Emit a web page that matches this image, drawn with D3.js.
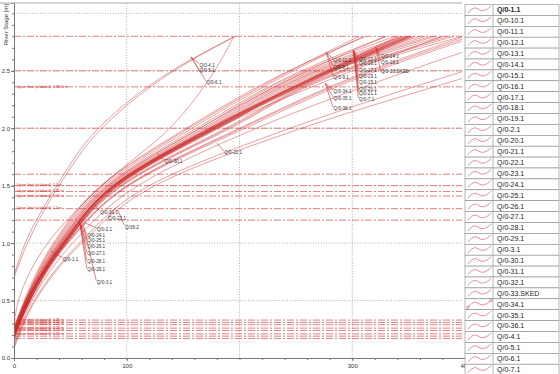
<!DOCTYPE html>
<html>
<head>
<meta charset="utf-8">
<script src="https://cdn.jsdelivr.net/npm/d3@7"></script>
<style>
  body { margin: 0; background: #fff; }
  svg { display: block; font-family: "Liberation Sans", Arial, sans-serif; }
</style>
</head>
<body>
<svg id="chart" width="560" height="374"></svg>
<script>
// stages (m) at which discharge is read for every curve
const stageGrid = [0.5, 1.0, 1.5, 2.0, 2.5, 2.8];

// rating curves: name, stage at zero flow, discharge (m3/s) at stageGrid
const curveNames = ["Q/0-4.1", "Q/0-5.1", "Q/0-6.1",
  "Q/0-11.1", "Q/0-8.1", "Q/0-9.1", "Q/0-12.1", "Q/0-13.1",
  "Q/0-10.1", "Q/0-16.1", "Q/0-17.1", "Q/0-19.1", "Q/0-15.1", "Q/0-20.1", "Q/0-21.1", "Q/0-7.1",
  "Q/0-14.1", "Q/0-18.1", "Q/0-33.SKED", "Q/0-34.1", "Q/0-35.1", "Q/0-36.1",
  "Q/0-30.1", "Q/0-22.1", "Q/0-23.1", "Q/38.2", "Q/0-31.1", "Q/0-32.1",
  "Q/0-1.1", "Q/0-2.1", "Q/0-3.1", "Q/0-24.1", "Q/0-25.1", "Q/0-26.1", "Q/0-27.1", "Q/0-28.1", "Q/0-29.1"];
const zeroStages = [0.72, 0.7, 0.3,
  0.25, 0.24, 0.26, 0.22, 0.21,
  0.2, 0.21, 0.2, 0.19, 0.2, 0.2, 0.19, 0.18,
  0.17, 0.17, 0.16, 0.2, 0.21, 0.2,
  0.15, 0.12, 0.1, 0.08, 0.2, 0.22,
  0.25, 0.2, 0.22, 0.2, 0.21, 0.22, 0.23, 0.24, 0.25];
const discharges = [
  [null, 10, 38, 75, 140, 196],
  [null, 12, 40, 78, 142, 196],
  [4, 30, 78, 138, 178, 195],
  [10, 36, 78, 155, 245, 306],
  [10, 37, 80, 158, 248, 310],
  [9, 35, 77, 153, 244, 312],
  [11, 38, 82, 162, 255, 330],
  [11, 39, 83, 165, 258, 338],
  [12, 40, 85, 168, 262, 345],
  [12, 41, 86, 170, 265, 350],
  [12, 41, 87, 172, 268, 355],
  [13, 42, 88, 174, 270, 360],
  [13, 42, 89, 176, 273, 365],
  [13, 43, 90, 178, 276, 370],
  [13, 43, 91, 180, 279, 374],
  [13, 44, 92, 182, 282, 380],
  [14, 45, 94, 188, 290, 385],
  [14, 45, 95, 190, 292, 390],
  [14, 46, 96, 192, 295, 398],
  [14, 47, 100, 200, 315, 400],
  [14, 47, 101, 202, 318, 405],
  [15, 48, 102, 205, 322, 410],
  [14, 46, 92, 180, 300, 380],
  [16, 52, 110, 215, 350, 440],
  [18, 58, 120, 245, 400, 500],
  [19, 60, 125, 255, 420, 520],
  [12, 44, 88, 175, 280, 350],
  [12, 44, 89, 177, 283, 352],
  [10, 40, 84, 165, 260, 330],
  [12, 46, 92, 180, 285, 355],
  [12, 46, 91, 179, 284, 352],
  [12, 45, 90, 178, 282, 350],
  [12, 45, 90, 177, 281, 348],
  [11, 44, 89, 176, 280, 346],
  [11, 44, 89, 175, 279, 344],
  [11, 43, 88, 174, 278, 342],
  [10, 43, 88, 173, 277, 340]
];

// curve labels: text, point on curve [Q, stage], label position [Q, stage]
const labelTexts = ["Q/0-4.1", "Q/0-5.1", "Q/0-6.1",
  "Q/0-11.1", "Q/0-8.1", "Q/0-9.1",
  "Q/0-10.1", "Q/0-16.1", "Q/0-17.1", "Q/0-19.1", "Q/0-15.1", "Q/0-20.1", "Q/0-21.1", "Q/0-7.1",
  "Q/0-14.1", "Q/0-18.1", "Q/0-33.SKED",
  "Q/0-34.1", "Q/0-35.1", "Q/0-36.1",
  "Q/0-22.1", "Q/0-30.1", "Q/0-31.1", "Q/0-23.1", "Q/38.2", "Q/0-2.1",
  "Q/0-24.1", "Q/0-25.1", "Q/0-26.1", "Q/0-27.1", "Q/0-28.1", "Q/0-29.1", "Q/0-3.1", "Q/0-1.1"];
const labelAnchors = [[157, 2.62], [157, 2.62], [157, 2.62],
  [277, 2.66], [277, 2.66], [277, 2.66],
  [301, 2.68], [301, 2.68], [301, 2.68], [301, 2.68], [301, 2.68], [301, 2.68], [301, 2.68], [301, 2.68],
  [321, 2.7], [321, 2.7], [321, 2.7],
  [276, 2.39], [276, 2.39], [276, 2.39],
  [180, 1.87], [127, 1.78], [71.5, 1.33], [92, 1.32], [92, 1.29], [62, 1.18],
  [58.3, 1.18], [58.3, 1.18], [58.3, 1.18], [58.3, 1.18], [58.3, 1.18], [58.3, 1.18], [61, 1.18], [33, 0.93]];
const labelSpots = [[164, 2.55], [164, 2.5], [170, 2.4],
  [283, 2.59], [283, 2.53], [283, 2.44],
  [305.5, 2.6], [305.5, 2.56], [305.5, 2.5], [305.5, 2.45], [305.5, 2.4], [305.5, 2.34], [305.5, 2.3], [305.5, 2.25],
  [325, 2.62], [325, 2.57], [325, 2.49],
  [283, 2.32], [283, 2.26], [283, 2.17],
  [186, 1.79], [133, 1.71], [76, 1.27], [83, 1.21], [98, 1.14], [73, 1.12],
  [64.5, 1.07], [64.5, 1.02], [64.5, 0.97], [64.5, 0.91], [64.5, 0.84], [64.5, 0.77], [73, 0.66], [43, 0.86]];

// horizontal limit lines (m) and their captions
const limitStages = [2.8, 2.5, 2.36, 2.0, 1.6, 1.5, 1.45, 1.41, 1.3, 1.2,
  0.33, 0.31, 0.29, 0.26, 0.24, 0.21, 0.19, 0.17];
const limitCaptions = ["", "", "Upper limit (validated): 2.3600 m", "", "",
  "Upper limit (validated): 1.5 m", "Upper limit (validated): 1.45 m", "Upper limit (validated): 1.41 m",
  "Upper limit (validated): 1.3 m", "",
  "Upper limit (validated): 0.33 m", "Upper limit (validated): 0.31 m", "Upper limit (validated): 0.29 m",
  "Upper limit (validated): 0.26 m", "Upper limit (validated): 0.24 m", "Upper limit (validated): 0.21 m", "", ""];

// legend rows
const legendNames = ["Q/0-1.1", "Q/0-10.1", "Q/0-11.1", "Q/0-12.1", "Q/0-13.1", "Q/0-14.1", "Q/0-15.1",
  "Q/0-16.1", "Q/0-17.1", "Q/0-18.1", "Q/0-19.1", "Q/0-2.1", "Q/0-20.1", "Q/0-21.1", "Q/0-22.1",
  "Q/0-23.1", "Q/0-24.1", "Q/0-25.1", "Q/0-26.1", "Q/0-27.1", "Q/0-28.1", "Q/0-29.1", "Q/0-3.1",
  "Q/0-30.1", "Q/0-31.1", "Q/0-32.1", "Q/0-33.SKED", "Q/0-34.1", "Q/0-35.1", "Q/0-36.1",
  "Q/0-4.1", "Q/0-5.1", "Q/0-6.1", "Q/0-7.1"];

const xTicks = [0, 100, 300, 400];
const yTicks = [0, 0.5, 1.0, 1.5, 2.0, 2.5];

const svg = d3.select("#chart");
const x = d3.scaleLinear().domain([0, 400]).range([14, 465]);
const y = d3.scaleLinear().domain([0, 3.09]).range([358, 3]);

svg.append("defs").append("clipPath").attr("id", "plot")
  .append("rect").attr("x", 14).attr("y", 3).attr("width", 448).attr("height", 355);

// grid
const grid = svg.append("g").attr("stroke", "#9a9a9a").attr("stroke-width", 0.8).attr("stroke-dasharray", "1,1.6");
grid.selectAll(".gx").data([100, 200, 300]).enter().append("line")
  .attr("x1", d => x(d)).attr("x2", d => x(d)).attr("y1", 3).attr("y2", 358);
grid.selectAll(".gy").data([0.5, 1.0, 1.5, 2.0, 2.5, 3.0]).enter().append("line")
  .attr("x1", 14).attr("x2", 462).attr("y1", d => y(d)).attr("y2", d => y(d));

// limits
const limits = svg.append("g");
limits.selectAll("line").data(limitStages).enter().append("line")
  .attr("x1", 14).attr("x2", 462).attr("y1", d => y(d)).attr("y2", d => y(d))
  .attr("stroke", "#e07070").attr("stroke-width", 0.9).attr("stroke-dasharray", "7,2,2,2");
limits.selectAll("text").data(limitStages).enter().append("text")
  .attr("x", 17).attr("y", d => y(d) + 0.8)
  .attr("font-size", 3.5).attr("fill", "#d03030")
  .text((d, i) => limitCaptions[i]);

// rating curves
const line = d3.line().x(d => x(d[0])).y(d => y(d[1])).curve(d3.curveMonotoneY);
const curves = svg.append("g").attr("clip-path", "url(#plot)");
curveNames.forEach((name, i) => {
  const pts = [[0, zeroStages[i]]];
  stageGrid.forEach((h, j) => { if (discharges[i][j] != null) pts.push([discharges[i][j], h]); });
  curves.append("path").datum(pts).attr("d", line)
    .attr("fill", "none").attr("stroke", "#cc2a2a").attr("stroke-opacity", 0.6).attr("stroke-width", 0.75);
});

// curve labels with leaders
const notes = svg.append("g");
labelTexts.forEach((t, i) => {
  const a = labelAnchors[i], s = labelSpots[i];
  notes.append("line").attr("x1", x(a[0])).attr("y1", y(a[1])).attr("x2", x(s[0])).attr("y2", y(s[1]) - 1.5)
    .attr("stroke", "#cc3333").attr("stroke-width", 0.6);
  notes.append("text").attr("x", x(s[0]) + 0.5).attr("y", y(s[1]) + 1.5)
    .attr("font-size", 4.6).attr("fill", "#333").text(t);
});

// axes
svg.append("g").attr("transform", "translate(0,358)")
  .call(d3.axisBottom(x).tickValues(xTicks).tickSize(3).tickFormat(d3.format("d")));
svg.append("g").attr("transform", "translate(0,358)")
  .call(d3.axisBottom(x).tickValues(d3.range(0, 401, 20)).tickSize(2).tickFormat(""));
const yAxis = svg.append("g").attr("transform", "translate(14,0)")
  .call(d3.axisLeft(y).tickValues(yTicks).tickSize(3).tickFormat(d3.format(".1f")));
svg.append("g").attr("transform", "translate(14,0)")
  .call(d3.axisLeft(y).tickValues(d3.range(0, 31).map(d => d / 10)).tickSize(2).tickFormat(""));
svg.selectAll(".domain").attr("stroke", "#777");
svg.selectAll(".tick line").attr("stroke", "#777");
svg.selectAll(".tick text").attr("font-size", 6).attr("fill", "#333");
yAxis.selectAll(".tick text").attr("x", -4);

svg.append("line").attr("x1", 0).attr("x2", 462).attr("y1", 3).attr("y2", 3).attr("stroke", "#aaa");

svg.append("text").attr("transform", "translate(8,4) rotate(-90)")
  .attr("text-anchor", "end").attr("font-size", 6).attr("fill", "#333")
  .text("River Stage [m]");

// legend table
const rowH = 10.9, rowTop = 4.5, lx = 465, midX = 493;
const leg = svg.append("g");
leg.append("rect").attr("x", lx).attr("y", 0).attr("width", 95).attr("height", 374).attr("fill", "#fff");
legendNames.forEach((name, i) => {
  const y0 = rowTop + i * rowH;
  const g = leg.append("g").attr("transform", `translate(0,${y0})`);
  g.append("rect").attr("x", lx).attr("y", 0).attr("width", 94).attr("height", rowH)
    .attr("fill", "#fff").attr("stroke", "#888").attr("stroke-width", 0.6);
  g.append("line").attr("x1", midX).attr("x2", midX).attr("y1", 0).attr("y2", rowH).attr("stroke", "#888").attr("stroke-width", 0.6);
  g.append("path").attr("d", `M${lx + 3},${8.5} C${lx + 8},${2} ${lx + 11},${3} ${lx + 14},${5} S${lx + 21},${6.5} ${lx + 26},${1.5}`)
    .attr("fill", "none").attr("stroke", "#d06060").attr("stroke-width", 0.7);
  if (name === "Q/0-34.1") {
    g.append("circle").attr("cx", lx + 3).attr("cy", 8.5).attr("r", 1.3).attr("fill", "none").attr("stroke", "#d06060").attr("stroke-width", 0.6);
    g.append("circle").attr("cx", lx + 26).attr("cy", 1.5).attr("r", 1.3).attr("fill", "none").attr("stroke", "#d06060").attr("stroke-width", 0.6);
  }
  g.append("text").attr("x", midX + 4).attr("y", rowH / 2 + 2.4).attr("font-size", 7)
    .attr("font-weight", i === 0 ? "bold" : "normal").attr("fill", "#222").text(name);
});
</script>
</body>
</html>
